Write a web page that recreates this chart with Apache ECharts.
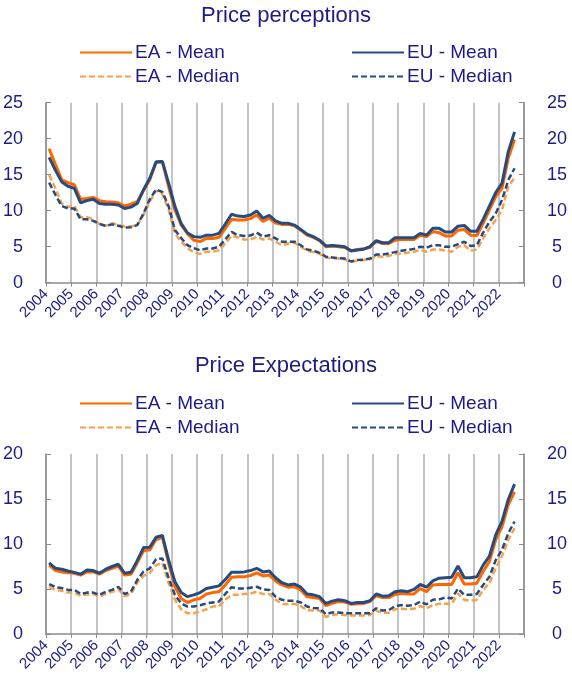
<!DOCTYPE html>
<html>
<head>
<meta charset="utf-8">
<script src="https://cdn.jsdelivr.net/npm/echarts@6/dist/echarts.min.js"></script>
<style>
html,body{margin:0;padding:0;background:#fff;}
#c{width:572px;height:679px;}
</style>
</head>
<body>
<div id="c"></div>
<script>
// Quarterly observations, 2004Q1 .. 2022Q3
const firstYear = 2004;
const yearTicks = [2004,2005,2006,2007,2008,2009,2010,2011,2012,2013,2014,2015,2016,2017,2018,2019,2020,2021,2022];

// ---- Price perceptions ----
const percEAMean = [18.6,16.4,14.3,13.9, 13.6,11.6,11.7,11.85, 11.4,11.25,11.2,11.1, 10.65,10.9,11.25,12.8, 14.3,16.7,16.8,13.3, 10.1,8.0,6.8,5.9,
  5.7,6.15,6.15,6.3, 7.55,8.8,8.7,8.7, 8.9,9.4,8.5,8.95, 8.3,8.1,8.1,7.9, 7.3,6.6,6.3,5.85, 5.0,5.1,5.0,4.9, 4.45,4.6,4.7,
  4.9, 5.75,5.45,5.45,5.9, 6.0,6.0,6.0,6.6, 6.4,7.1,6.95,6.5, 6.5,7.3,7.4,6.6, 6.55,8.25,10.1,11.95, 13.1,17.3,19.9];
const percEUMean = [17.4,15.6,14.0,13.4, 13.1,11.1,11.4,11.6, 11.0,10.9,10.9,10.8, 10.3,10.5,11.0,12.9, 14.5,16.8,16.85,13.8, 10.6,8.2,6.9,6.4,
  6.3,6.6,6.6,6.85, 8.15,9.5,9.25,9.2, 9.4,9.95,8.95,9.35, 8.6,8.25,8.25,8.0, 7.4,6.75,6.4,5.9, 5.1,5.15,5.1,5.0, 4.4,4.55,4.65,
  5.0, 5.85,5.55,5.55,6.25, 6.25,6.25,6.25,6.85, 6.6,7.55,7.55,7.05, 7.05,7.85,7.95,7.15, 7.15,8.8,10.65,12.5, 13.8,18.2,20.95];
const percEAMedian = [14.95,13.1,11.0,10.55, 10.65,9.1,9.1,8.8, 8.15,7.9,8.25,8.0, 7.8,7.8,8.0,9.4, 11.25,12.8,12.3,10.1, 6.85,5.7,4.8,4.2,
  4.0,4.3,4.3,4.5, 5.45,6.5,6.3,6.0, 6.0,6.4,6.0,6.15, 5.7,5.2,5.45,5.55, 5.0,4.45,4.25,4.0, 3.5,3.4,3.35,3.25, 2.9,3.05,3.15,
  3.25, 3.7,3.6,3.7,4.0, 4.05,4.15,4.3,4.55, 4.3,4.6,4.6,4.45, 4.3,5.0,5.2,4.45, 4.6,6.15,7.55,8.7, 10.1,13.35,14.6];
const percEUMedian = [13.9,12.2,10.65,10.3, 10.3,8.8,8.8,8.6, 8.15,7.9,8.1,7.9, 7.65,7.7,8.0,9.6, 11.6,12.95,12.6,10.6, 7.3,6.2,5.2,4.8,
  4.5,4.75,4.75,5.0, 6.0,7.05,6.6,6.5, 6.55,6.95,6.4,6.6, 6.15,5.7,5.7,5.7, 5.2,4.6,4.45,4.15, 3.6,3.5,3.4,3.35, 2.95,3.15,3.2,
  3.35, 3.9,3.9,4.05,4.25, 4.45,4.55,4.7,5.0, 4.85,5.2,5.2,5.0, 5.0,5.35,5.7,5.1, 5.2,6.95,8.45,9.6, 11.5,14.25,15.9];

// ---- Price expectations ----
const expEAMean = [7.65,7.05,6.9,6.8, 6.75,6.55,6.9,6.9, 6.65,7.05,7.3,7.55, 6.55,6.65,7.9,9.25, 9.35,10.5,10.75,7.85, 5.25,3.95,3.5,3.8,
  3.95,4.45,4.6,4.7, 5.45,6.3,6.35,6.35, 6.5,6.8,6.45,6.55, 5.9,5.45,5.2,5.25, 4.9,4.15,4.05,3.95, 3.15,3.4,3.6,3.55, 3.3,3.35,3.4,
  3.6, 4.25,4.05,4.05,4.4, 4.5,4.45,4.45,5.05, 4.7,5.45,5.5,5.5, 5.5,6.8,5.55,5.55, 5.65,6.95,8.05,10.45, 11.9,14.35,15.8];
const expEUMean = [7.9,7.3,7.2,7.0, 6.85,6.65,7.1,7.05, 6.75,7.2,7.5,7.75, 6.75,6.85,8.15,9.6, 9.65,10.75,10.95,8.2, 5.8,4.6,4.15,4.35,
  4.6,5.05,5.2,5.35, 6.05,6.85,6.85,6.9, 7.05,7.3,6.9,7.0, 6.25,5.7,5.45,5.55, 5.2,4.45,4.35,4.15, 3.4,3.65,3.8,3.7, 3.4,3.5,3.5,
  3.7, 4.45,4.2,4.25,4.7, 4.8,4.7,4.95,5.5, 5.2,5.9,6.2,6.25, 6.3,7.55,6.25,6.25, 6.35,7.65,8.65,11.0, 12.5,14.95,16.65];
const expEAMedian = [5.2,4.9,4.8,4.6, 4.6,4.25,4.4,4.45, 4.15,4.45,4.7,4.95, 4.2,4.45,5.7,6.45, 6.8,7.65,7.9,5.65, 3.8,2.75,2.3,2.3,
  2.5,2.75,3.05,3.1, 3.8,4.35,4.35,4.45, 4.5,4.7,4.45,4.45, 3.8,3.35,3.3,3.35, 3.1,2.65,2.6,2.6, 1.9,2.1,2.2,2.1, 2.05,2.05,2.05,
  2.1, 2.6,2.35,2.35,2.75, 2.8,2.75,2.8,3.1, 2.85,3.2,3.35,3.35, 3.35,4.5,3.8,3.7, 3.8,4.9,5.65,7.3, 8.65,10.45,11.75];
const expEUMedian = [5.55,5.2,5.1,4.9, 4.9,4.45,4.6,4.6, 4.35,4.7,4.9,5.25, 4.45,4.7,6.0,6.95, 7.3,8.3,8.4,6.2, 4.35,3.4,3.05,3.05,
  3.2,3.4,3.5,3.6, 4.45,5.2,5.05,5.05, 5.15,5.25,4.95,4.9, 4.15,3.8,3.7,3.7, 3.5,3.05,2.9,2.85, 2.2,2.4,2.4,2.3, 2.3,2.3,2.3,
  2.3, 2.85,2.6,2.65,3.1, 3.2,3.15,3.2,3.6, 3.3,3.8,3.85,4.05, 3.95,5.05,4.35,4.35, 4.45,5.45,6.35,8.2, 9.35,11.2,12.5];

const seriesNames = ['EA - Mean','EU - Mean','EA - Median','EU - Median'];
const titles = ['Price perceptions','Price Expectations'];

// time position of each quarter (mid-quarter) on the year axis
function pairs(vals){ return vals.map((v,i)=>[firstYear + Math.floor(i/4) + ((i%4)+0.5)/4, v]); }

const TXT = '#1c1c84';
const ORANGE = '#ff6600';
const LORANGE = '#f9a04c';
const NAVY = '#264b7f';
const FONT = 'Liberation Sans, Arial, sans-serif';

const panels = [
  {top:102.7, height:180, max:25, titleTop:0, legTop:38, data:[percEAMean,percEUMean,percEAMedian,percEUMedian]},
  {top:454, height:180, max:20, titleTop:350, legTop:389, data:[expEAMean,expEUMean,expEAMedian,expEUMedian]}
];

const option = {
  animation:false,
  backgroundColor:'#fff',
  textStyle:{fontFamily:FONT},
  title:[], legend:[], grid:[], xAxis:[], yAxis:[], series:[]
};

const styles = [
  {color:ORANGE, type:'solid', width:3},
  {color:NAVY, type:'solid', width:3},
  {color:LORANGE, type:[6,3], width:2.5},
  {color:NAVY, type:[6,3], width:2.5}
];

panels.forEach((p,k)=>{
  option.title.push({text:titles[k], left:'center', top:p.titleTop,
    textStyle:{color:TXT, fontSize:22, fontWeight:'normal', fontFamily:FONT}});
  const legCommon = {orient:'vertical', top:p.legTop, itemWidth:52, itemHeight:14, itemGap:5,
    itemStyle:{opacity:0, borderWidth:0},
    textStyle:{color:TXT, fontSize:19, fontFamily:FONT, padding:[0,0,0,-2]}, selectedMode:false};
  option.legend.push(Object.assign({left:74, data:[seriesNames[0],seriesNames[2]]}, legCommon));
  option.legend.push(Object.assign({left:346, data:[seriesNames[1],seriesNames[3]]}, legCommon));
  option.grid.push({left:45, width:479, top:p.top, height:p.height, containLabel:false});
  option.xAxis.push({type:'value', gridIndex:k, min:firstYear, max:2023, interval:1,
    axisLine:{lineStyle:{color:'#8c8c8c', width:1.5}},
    axisTick:{show:true, length:4, lineStyle:{color:'#8c8c8c'}},
    splitLine:{show:true, lineStyle:{color:'#c4c4c4', width:2}},
    axisLabel:{rotate:45, margin:9, color:TXT, fontSize:15, fontFamily:FONT,
      formatter:(v)=> yearTicks.indexOf(Math.round(v))>=0 ? String(Math.round(v)) : ''}});
  const yCommon = {type:'value', gridIndex:k, min:0, max:p.max, interval:5,
    axisLine:{show:true, lineStyle:{color:'#8c8c8c', width:1.5}},
    axisTick:{show:true, inside:true, length:5, lineStyle:{color:'#8c8c8c'}},
    splitLine:{show:false}};
  option.yAxis.push(Object.assign({position:'left', axisLabel:{color:TXT, fontSize:18, margin:23, fontFamily:FONT}}, yCommon));
  option.yAxis.push(Object.assign({position:'right', axisLabel:{color:TXT, fontSize:18, margin:33, align:'center', fontFamily:FONT}}, yCommon));
  // draw medians first, then means on top
  [2,3,0,1].forEach(s=>{
    option.series.push({name:seriesNames[s], type:'line', xAxisIndex:k, yAxisIndex:2*k,
      data:pairs(p.data[s]), symbol:'none', showSymbol:false, smooth:false,
      color:styles[s].color,
      lineStyle:{color:styles[s].color, width:styles[s].width, type:styles[s].type},
      z: s<2 ? 3 : 2});
  });
});

const chart = echarts.init(document.getElementById('c'), null, {renderer:'canvas'});
chart.setOption(option);
</script>
</body>
</html>
